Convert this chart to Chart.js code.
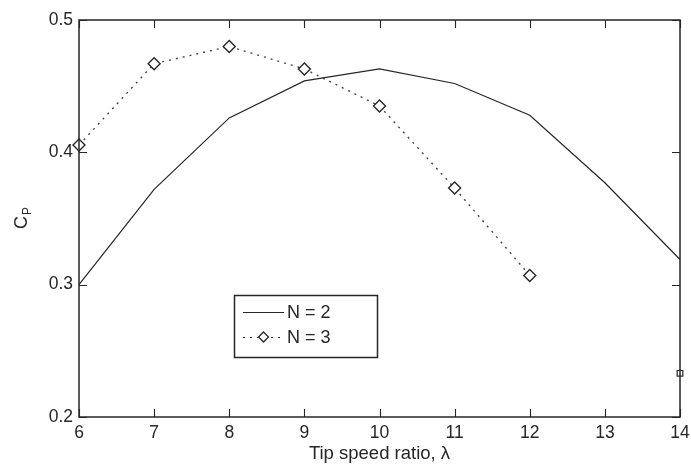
<!DOCTYPE html>
<html>
<head>
<meta charset="utf-8">
<script src="https://cdn.jsdelivr.net/npm/chart.js@4/dist/chart.umd.min.js"></script>
<style>
  html, body { margin: 0; padding: 0; background: #fff; }
  #wrap { width: 691px; height: 465px; }
</style>
</head>
<body>
<div id="wrap"><canvas id="cp"></canvas></div>
<script>
// tip speed ratio values
const lambda = [6, 7, 8, 9, 10, 11, 12, 13, 14];
const cpN2 = [0.300, 0.372, 0.426, 0.454, 0.463, 0.452, 0.428, 0.377, 0.319];
const lambdaN3 = [6, 7, 8, 9, 10, 11, 12];
const cpN3 = [0.4055, 0.467, 0.480, 0.463, 0.435, 0.373, 0.307];
// lone square marker at the right edge
const extraX = [14];
const extraY = [0.233];
const xTicks = [6, 7, 8, 9, 10, 11, 12, 13, 14];
const yTicks = [0.2, 0.3, 0.4, 0.5];

const ink = '#262626';
const font = 'Liberation Sans, Arial, Helvetica, sans-serif';

// frame, inward ticks, y title and legend
const frame = {
  id: 'frame',
  afterDraw(chart) {
    const { ctx, chartArea: a, scales: { x, y } } = chart;
    ctx.save();
    ctx.strokeStyle = ink;
    ctx.lineWidth = 1.5;
    ctx.strokeRect(a.left, a.top, a.right - a.left, a.bottom - a.top);
    ctx.lineWidth = 1.1;
    ctx.beginPath();
    xTicks.forEach(v => {
      const px = Math.round(x.getPixelForValue(v)) + 0.5;
      ctx.moveTo(px, a.bottom); ctx.lineTo(px, a.bottom - 8);
      ctx.moveTo(px, a.top); ctx.lineTo(px, a.top + 8);
    });
    yTicks.forEach(v => {
      const py = Math.round(y.getPixelForValue(v)) + 0.5;
      ctx.moveTo(a.left, py); ctx.lineTo(a.left + 8, py);
      ctx.moveTo(a.right, py); ctx.lineTo(a.right - 8, py);
    });
    ctx.stroke();

    // y axis title C_P
    ctx.fillStyle = ink;
    ctx.translate(27, (a.top + a.bottom) / 2);
    ctx.rotate(-Math.PI / 2);
    ctx.textBaseline = 'alphabetic';
    ctx.textAlign = 'left';
    ctx.font = '18px ' + font;
    const cw = ctx.measureText('C').width;
    ctx.font = '12px ' + font;
    const pw = ctx.measureText('P').width;
    const sx = -(cw + pw) / 2;
    ctx.font = '18px ' + font;
    ctx.fillText('C', sx, 0);
    ctx.font = '12px ' + font;
    ctx.fillText('P', sx + cw + 1, 4);
    ctx.restore();

    // legend box
    ctx.save();
    ctx.strokeStyle = ink;
    ctx.lineWidth = 1.5;
    ctx.strokeRect(234.5, 295.5, 143, 62);
    ctx.fillStyle = ink;
    ctx.font = '18px ' + font;
    ctx.textBaseline = 'middle';
    const rows = [chart.data.datasets[0], chart.data.datasets[1]];
    rows.forEach((ds, i) => {
      const ly = 312 + i * 25;
      ctx.beginPath();
      ctx.lineWidth = 1.1;
      ctx.setLineDash(ds.borderDash || []);
      ctx.moveTo(243, ly + 0.5); ctx.lineTo(284, ly + 0.5);
      ctx.stroke();
      ctx.setLineDash([]);
      if (ds.pointRadius) {
        ctx.fillStyle = '#fff';
        ctx.lineWidth = 1.3;
        ctx.beginPath();
        const r = 5;
        ctx.moveTo(263.5, ly - r); ctx.lineTo(263.5 + r, ly);
        ctx.lineTo(263.5, ly + r); ctx.lineTo(263.5 - r, ly);
        ctx.closePath(); ctx.fill(); ctx.stroke();
        ctx.fillStyle = ink;
      }
      ctx.fillText(ds.label, 287, ly + 1);
    });
    ctx.restore();
  }
};

new Chart(document.getElementById('cp'), {
  type: 'scatter',
  data: {
    datasets: [
      {
        label: 'N = 2',
        data: lambda.map((v, i) => ({ x: v, y: cpN2[i] })),
        showLine: true, borderColor: ink, borderWidth: 1.2,
        pointRadius: 0, tension: 0
      },
      {
        label: 'N = 3',
        data: lambdaN3.map((v, i) => ({ x: v, y: cpN3[i] })),
        showLine: true, borderColor: '#444', borderWidth: 1.4,
        borderDash: [2, 5], pointStyle: 'rectRot', pointRadius: 6,
        pointBackgroundColor: '#fff', pointBorderColor: ink, pointBorderWidth: 1.4,
        tension: 0
      },
      {
        label: 'extra',
        data: extraX.map((v, i) => ({ x: v, y: extraY[i] })),
        showLine: false, pointStyle: 'rect', pointRadius: 4,
        pointBackgroundColor: '#fff', pointBorderColor: ink, pointBorderWidth: 1.2
      }
    ]
  },
  options: {
    responsive: true,
    maintainAspectRatio: false,
    animation: false,
    clip: false,
    layout: { padding: { top: 20, right: 11, left: 0, bottom: 0 } },
    plugins: { legend: { display: false }, tooltip: { enabled: false } },
    scales: {
      x: {
        type: 'linear', min: 6, max: 14,
        afterFit: s => { s.height = 48; s.paddingLeft = 0; s.paddingRight = 0; },
        grid: { display: false, drawTicks: false },
        border: { display: false },
        ticks: { stepSize: 1, padding: 6, color: ink, font: { family: font, size: 17.5 } },
        title: { display: true, text: 'Tip speed ratio, λ', color: ink, padding: 0, font: { family: font, size: 18.5 } }
      },
      y: {
        type: 'linear', min: 0.2, max: 0.5,
        afterFit: s => { s.width = 79; s.paddingTop = 0; s.paddingBottom = 0; },
        grid: { display: false, drawTicks: false },
        border: { display: false },
        ticks: { stepSize: 0.1, padding: 6, color: ink, font: { family: font, size: 17.5 },
          callback: v => v.toFixed(1) }
      }
    }
  },
  plugins: [frame]
});
</script>
</body>
</html>
